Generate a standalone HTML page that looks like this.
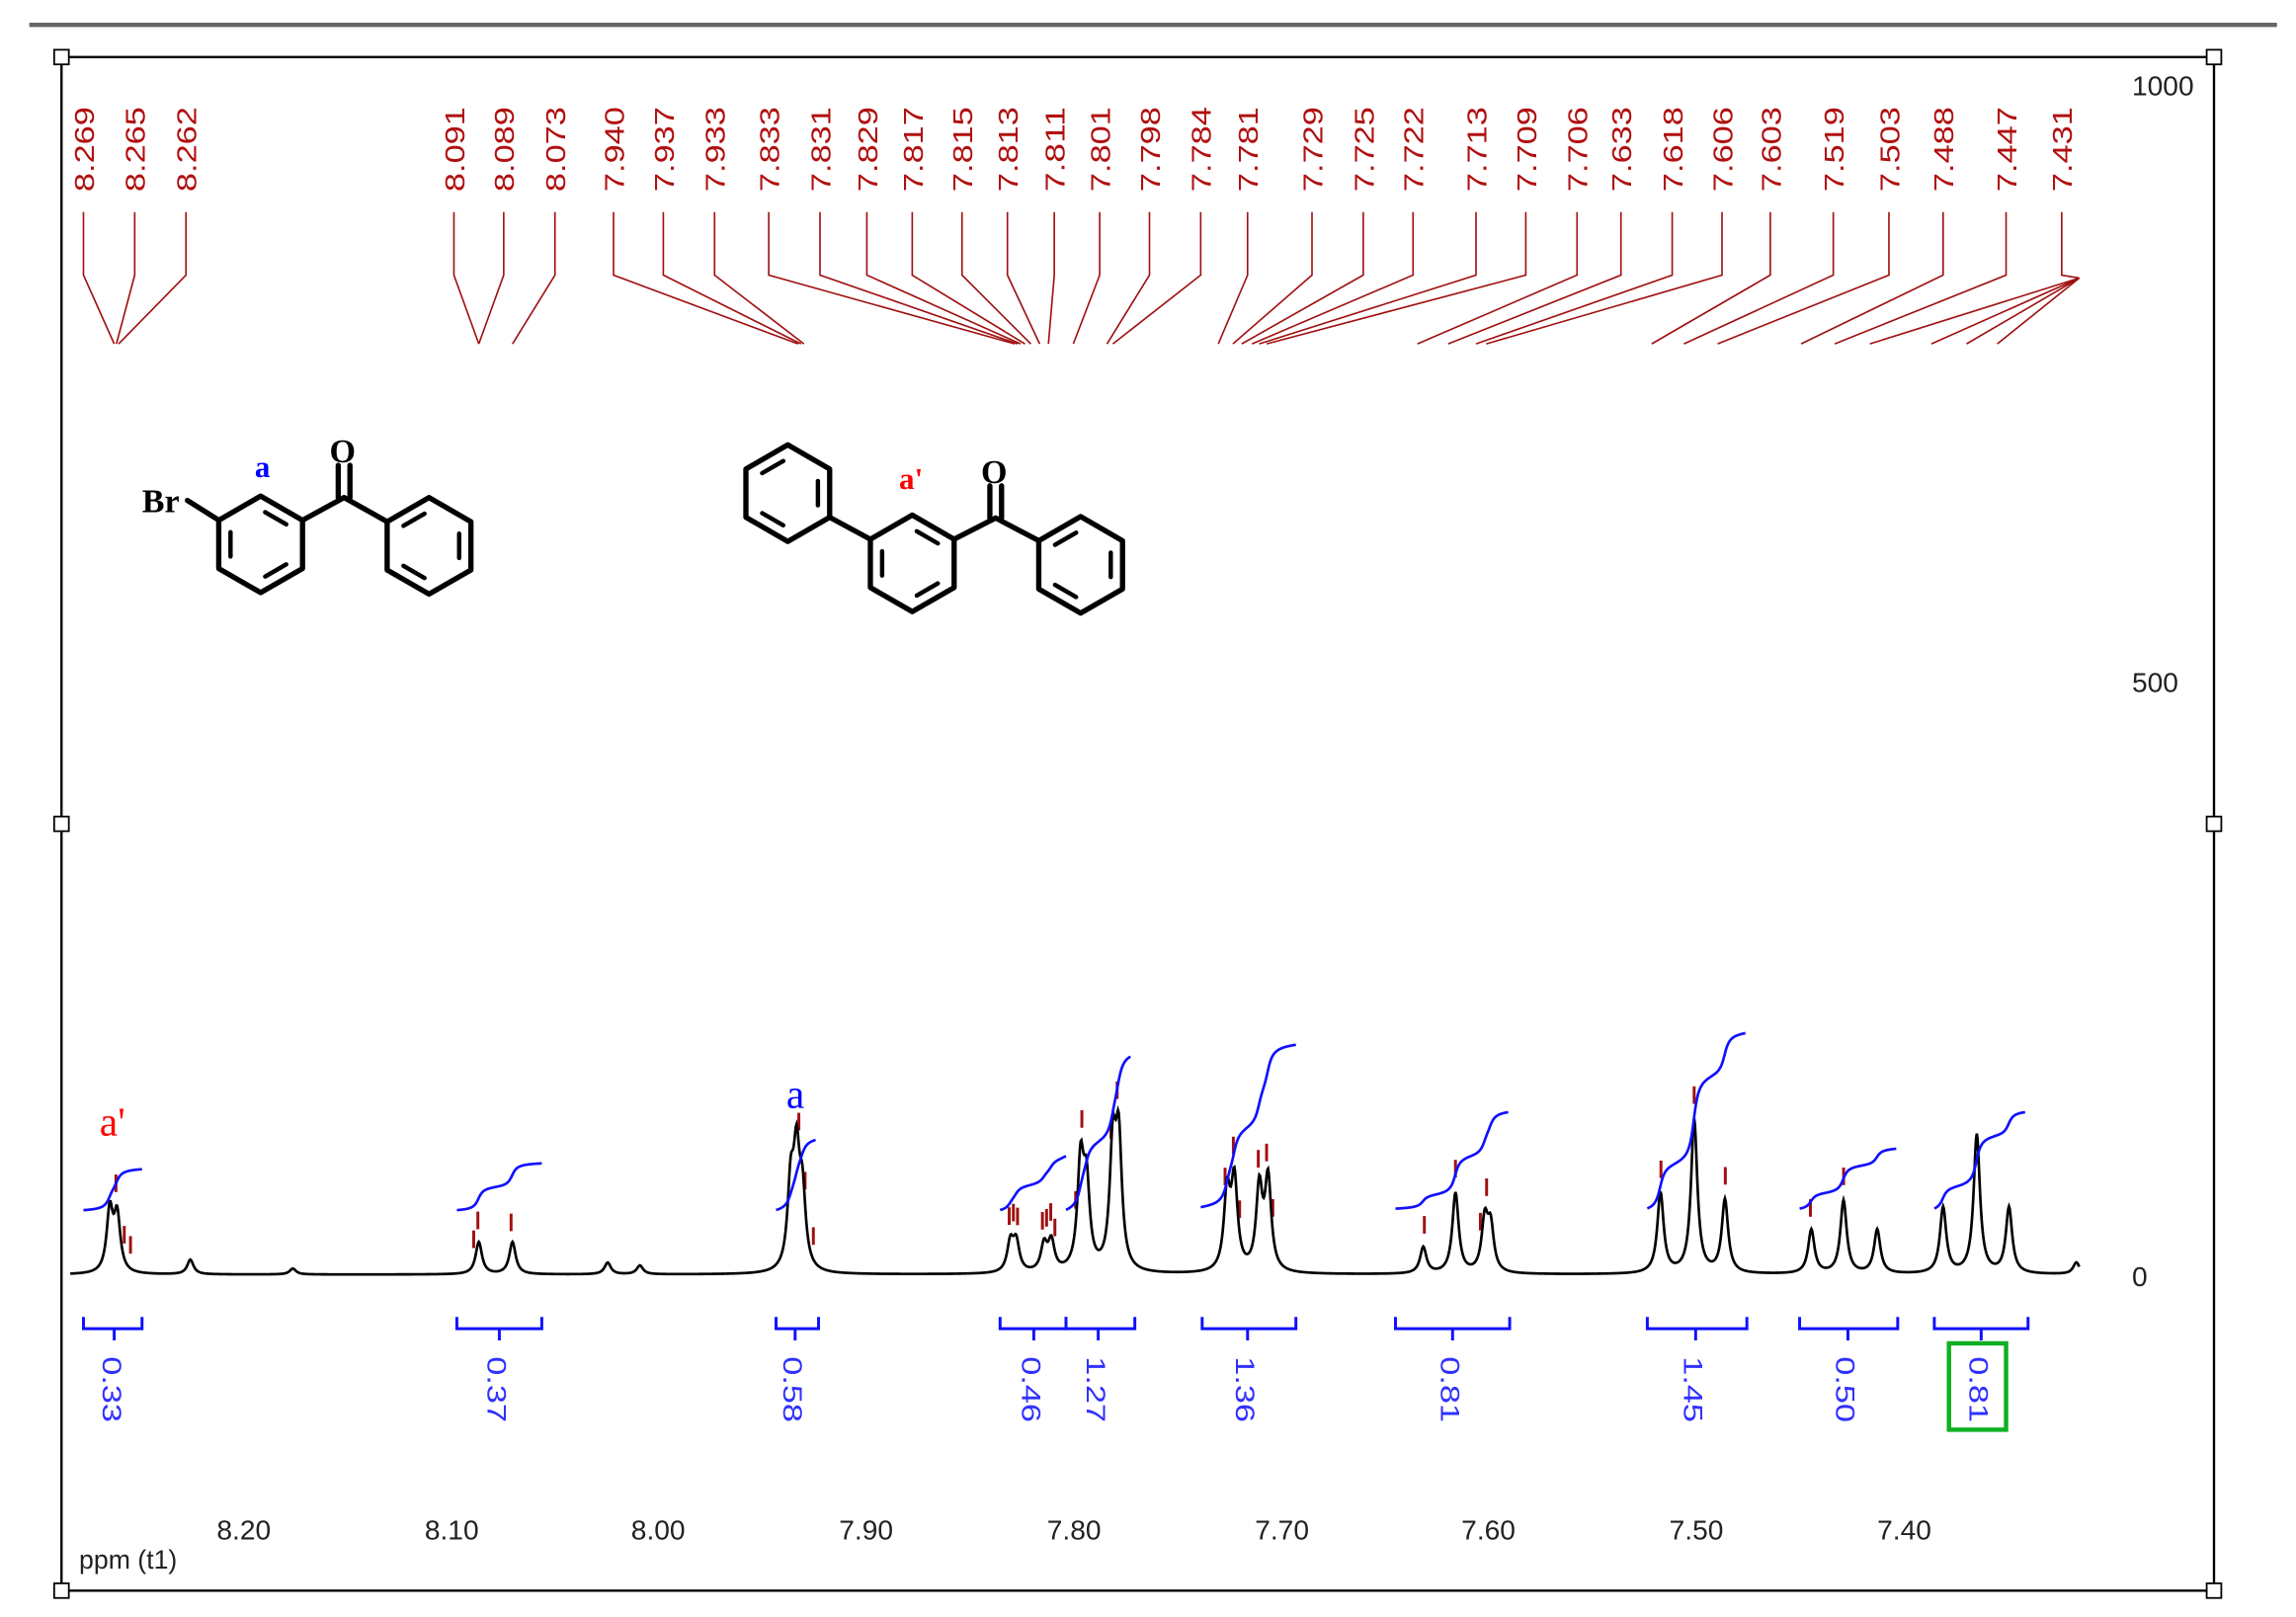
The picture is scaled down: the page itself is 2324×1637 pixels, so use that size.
<!DOCTYPE html>
<html><head><meta charset="utf-8"><style>
html,body{margin:0;padding:0;background:#fff}
svg{display:block}
.pl{font-family:"Liberation Sans",sans-serif;font-size:19px;fill:#b01010}
.iv{font-family:"Liberation Sans",sans-serif;font-size:18px;fill:#3030ff}
.ax{font-family:"Liberation Sans",sans-serif;font-size:19px;fill:#222}
</style></head><body>
<svg id="s" width="2324" height="1637" viewBox="0 0 1568 1105" preserveAspectRatio="none" xmlns="http://www.w3.org/2000/svg">
<rect x="0" y="0" width="1568" height="1105" fill="#fff"/>
<line x1="20" y1="17" x2="1555" y2="17" stroke="#666" stroke-width="3"/>
<rect x="42" y="39" width="1470" height="1048" fill="none" stroke="#000" stroke-width="1.6"/>
<g fill="#fff" stroke="#000" stroke-width="1.2">
<rect x="37" y="34" width="10" height="10"/><rect x="1507" y="34" width="10" height="10"/>
<rect x="37" y="558" width="10" height="10"/><rect x="1507" y="558" width="10" height="10"/>
<rect x="37" y="1082" width="10" height="10"/><rect x="1507" y="1082" width="10" height="10"/>
</g>
<g class="ax">
<text x="1456" y="65">1000</text><text x="1456" y="473">500</text><text x="1456" y="879">0</text>
<text x="148" y="1052">8.20</text><text x="290" y="1052">8.10</text><text x="431" y="1052">8.00</text>
<text x="573" y="1052">7.90</text><text x="715" y="1052">7.80</text><text x="857" y="1052">7.70</text>
<text x="998" y="1052">7.60</text><text x="1140" y="1052">7.50</text><text x="1282" y="1052">7.40</text>
<text x="54" y="1072" font-size="18">ppm (t1)</text>
</g>
<g id="plabels" class="pl">
<text transform="translate(64,131) rotate(-90)" textLength="58" lengthAdjust="spacingAndGlyphs">8.269</text>
<text transform="translate(99,131) rotate(-90)" textLength="58" lengthAdjust="spacingAndGlyphs">8.265</text>
<text transform="translate(134,131) rotate(-90)" textLength="58" lengthAdjust="spacingAndGlyphs">8.262</text>
<text transform="translate(317,131) rotate(-90)" textLength="58" lengthAdjust="spacingAndGlyphs">8.091</text>
<text transform="translate(351,131) rotate(-90)" textLength="58" lengthAdjust="spacingAndGlyphs">8.089</text>
<text transform="translate(386,131) rotate(-90)" textLength="58" lengthAdjust="spacingAndGlyphs">8.073</text>
<text transform="translate(426,131) rotate(-90)" textLength="58" lengthAdjust="spacingAndGlyphs">7.940</text>
<text transform="translate(460,131) rotate(-90)" textLength="58" lengthAdjust="spacingAndGlyphs">7.937</text>
<text transform="translate(495,131) rotate(-90)" textLength="58" lengthAdjust="spacingAndGlyphs">7.933</text>
<text transform="translate(532,131) rotate(-90)" textLength="58" lengthAdjust="spacingAndGlyphs">7.833</text>
<text transform="translate(567,131) rotate(-90)" textLength="58" lengthAdjust="spacingAndGlyphs">7.831</text>
<text transform="translate(599,131) rotate(-90)" textLength="58" lengthAdjust="spacingAndGlyphs">7.829</text>
<text transform="translate(630,131) rotate(-90)" textLength="58" lengthAdjust="spacingAndGlyphs">7.817</text>
<text transform="translate(664,131) rotate(-90)" textLength="58" lengthAdjust="spacingAndGlyphs">7.815</text>
<text transform="translate(695,131) rotate(-90)" textLength="58" lengthAdjust="spacingAndGlyphs">7.813</text>
<text transform="translate(727,131) rotate(-90)" textLength="58" lengthAdjust="spacingAndGlyphs">7.811</text>
<text transform="translate(758,131) rotate(-90)" textLength="58" lengthAdjust="spacingAndGlyphs">7.801</text>
<text transform="translate(792,131) rotate(-90)" textLength="58" lengthAdjust="spacingAndGlyphs">7.798</text>
<text transform="translate(827,131) rotate(-90)" textLength="58" lengthAdjust="spacingAndGlyphs">7.784</text>
<text transform="translate(859,131) rotate(-90)" textLength="58" lengthAdjust="spacingAndGlyphs">7.781</text>
<text transform="translate(903,131) rotate(-90)" textLength="58" lengthAdjust="spacingAndGlyphs">7.729</text>
<text transform="translate(938,131) rotate(-90)" textLength="58" lengthAdjust="spacingAndGlyphs">7.725</text>
<text transform="translate(972,131) rotate(-90)" textLength="58" lengthAdjust="spacingAndGlyphs">7.722</text>
<text transform="translate(1015,131) rotate(-90)" textLength="58" lengthAdjust="spacingAndGlyphs">7.713</text>
<text transform="translate(1049,131) rotate(-90)" textLength="58" lengthAdjust="spacingAndGlyphs">7.709</text>
<text transform="translate(1084,131) rotate(-90)" textLength="58" lengthAdjust="spacingAndGlyphs">7.706</text>
<text transform="translate(1114,131) rotate(-90)" textLength="58" lengthAdjust="spacingAndGlyphs">7.633</text>
<text transform="translate(1149,131) rotate(-90)" textLength="58" lengthAdjust="spacingAndGlyphs">7.618</text>
<text transform="translate(1183,131) rotate(-90)" textLength="58" lengthAdjust="spacingAndGlyphs">7.606</text>
<text transform="translate(1216,131) rotate(-90)" textLength="58" lengthAdjust="spacingAndGlyphs">7.603</text>
<text transform="translate(1259,131) rotate(-90)" textLength="58" lengthAdjust="spacingAndGlyphs">7.519</text>
<text transform="translate(1297,131) rotate(-90)" textLength="58" lengthAdjust="spacingAndGlyphs">7.503</text>
<text transform="translate(1334,131) rotate(-90)" textLength="58" lengthAdjust="spacingAndGlyphs">7.488</text>
<text transform="translate(1377,131) rotate(-90)" textLength="58" lengthAdjust="spacingAndGlyphs">7.447</text>
<text transform="translate(1415,131) rotate(-90)" textLength="58" lengthAdjust="spacingAndGlyphs">7.431</text>
</g>
<g id="leaders" stroke="#a01010" stroke-width="1.1" fill="none"></g>
<g id="ticks" stroke="#a01010" stroke-width="2"></g>
<path id="spec" fill="none" stroke="#000" stroke-width="1.8"/>
<g id="integ" fill="none" stroke="#1010ff" stroke-width="1.8"></g>
<g id="brk" fill="none" stroke="#1010ff" stroke-width="2"></g>
<g class="iv">
<text transform="translate(70,927) rotate(90)" textLength="45" lengthAdjust="spacingAndGlyphs">0.33</text>
<text transform="translate(333,927) rotate(90)" textLength="45" lengthAdjust="spacingAndGlyphs">0.37</text>
<text transform="translate(535,927) rotate(90)" textLength="45" lengthAdjust="spacingAndGlyphs">0.58</text>
<text transform="translate(698,927) rotate(90)" textLength="45" lengthAdjust="spacingAndGlyphs">0.46</text>
<text transform="translate(742,927) rotate(90)" textLength="45" lengthAdjust="spacingAndGlyphs">1.27</text>
<text transform="translate(844,927) rotate(90)" textLength="45" lengthAdjust="spacingAndGlyphs">1.36</text>
<text transform="translate(984,927) rotate(90)" textLength="45" lengthAdjust="spacingAndGlyphs">0.81</text>
<text transform="translate(1150,927) rotate(90)" textLength="45" lengthAdjust="spacingAndGlyphs">1.45</text>
<text transform="translate(1254,927) rotate(90)" textLength="45" lengthAdjust="spacingAndGlyphs">0.50</text>
<text transform="translate(1345,927) rotate(90)" textLength="45" lengthAdjust="spacingAndGlyphs">0.81</text>
</g>
<rect x="1331" y="918" width="39" height="59" fill="none" stroke="#10b020" stroke-width="3"/>
<text x="68" y="776" font-family="Liberation Serif,serif" font-size="28" fill="#ff0000">a'</text>
<text x="537" y="757" font-family="Liberation Serif,serif" font-size="28" fill="#0000ff">a</text>
<g id="mol" stroke="#000" stroke-width="3.6" fill="none" stroke-linecap="round" stroke-linejoin="round"></g>
<g font-family="Liberation Serif,serif" font-weight="bold">
<text x="97" y="350" font-size="23">Br</text>
<text x="225" y="316" font-size="23">O</text>
<text x="174" y="326" font-size="21" fill="#0000ff">a</text>
<text x="670" y="330" font-size="23">O</text>
<text x="614" y="334" font-size="21" fill="#ff0000">a'</text>
</g>
</svg>
<script>
var NS="http://www.w3.org/2000/svg";
function el(p,t,a){var e=document.createElementNS(NS,t);for(var k in a)e.setAttribute(k,a[k]);document.getElementById(p).appendChild(e);return e;}
var peaks=[[75,42],[80,38],[130,10],[200,4],[327,22],[350,22],[415,8],[437,6],[540,55],[544,72],[548,48],[690,20],[694,20],[713,18],[718,20],[738,72],[742,55],[760,80],[764,85],[838,52],[843,60],[860,56],[866,62],[972,18],[994,55],[1014,35],[1018,30],[1134,55],[1157,105],[1178,50],[1237,30],[1259,50],[1282,30],[1327,45],[1350,95],[1372,45],[1418,8]];
var B=871,W=2.6;
function f(x){var s=0;for(var i=0;i<peaks.length;i++){var d=(x-peaks[i][0])/W;s+=peaks[i][1]/(1+d*d);}return s;}
var d="";for(var x=48;x<=1420;x+=0.5){d+=(x==48?"M":"L")+x+","+(B-f(x)).toFixed(2);}
document.getElementById("spec").setAttribute("d",d);
var G=[[57,97,827,799],[312,370,827,795],[530,557,827,779],[683,728,827,790],[728,772,827,722],[820,885,825,714],[953,1030,826,760],[1125,1192,826,706],[1229,1295,826,785],[1321,1383,826,760]];
G.forEach(function(g){var a=g[0],b=g[1],tot=0;for(var x=a;x<=b;x+=0.5){tot+=f(x);}var c=0,p="";for(var x=a;x<=b;x+=0.5){c+=f(x);var y=g[2]-(g[2]-g[3])*(c/tot);p+=(x==a?"M":"L")+x+","+y.toFixed(2);}el("integ","path",{d:p});});
[[57,97,78],[312,370,341],[530,559,543],[683,728,706],[728,775,750],[821,885,852],[953,1031,992],[1125,1193,1158],[1229,1296,1262],[1321,1385,1353]].forEach(function(b){
el("brk","path",{d:"M"+b[0]+",900V908H"+b[1]+"V900M"+b[2]+",908V916"});});
var ppm=[8.269,8.265,8.262,8.091,8.089,8.073,7.940,7.937,7.933,7.833,7.831,7.829,7.817,7.815,7.813,7.811,7.801,7.798,7.784,7.781,7.729,7.725,7.722,7.713,7.709,7.706,7.633,7.618,7.606,7.603,7.519,7.503,7.488,7.447,7.431];
var lx=[57,92,127,310,344,379,419,453,488,525,560,592,623,657,688,720,751,785,820,852,896,931,965,1008,1042,1077,1107,1142,1176,1209,1252,1290,1327,1370,1408];
var tgt=[78,79.5,81,327,327,350,545,547,549,693,695,697,700,704,710,716,733,756,760,832,842,848,855,860,865,968,989,1008,1015,1128,1150,1173,1230,1253,1420];
ppm.forEach(function(p,i){var t=tgt[i];
el("leaders","path",{d:"M"+lx[i]+",145V188L"+t+","+(i==34?190:235)});
var tx=169+(8.20-p)*1417.5+(i<3?8:0)+(i>=6&&i<9?8:0); if(tx>1418)tx=1418;var top=B-f(tx);
el("ticks","line",{x1:tx,x2:tx,y1:top-22,y2:top-10});});
[1277,1319,1343,1364].forEach(function(t){el("leaders","path",{d:"M1420,190L"+t+",235"});});
function hex(cx,cy,r,dbl){var v=[];for(var k=0;k<6;k++){var a=Math.PI/180*(-90+60*k);v.push([cx+r*Math.cos(a),cy+r*Math.sin(a)]);}
var p="M"+v.map(function(q){return q[0].toFixed(1)+","+q[1].toFixed(1)}).join("L")+"Z";el("mol","path",{d:p});
dbl.forEach(function(k){var a=v[k],b=v[(k+1)%6];var s=0.72;function ins(q){return [cx+(q[0]-cx)*s,cy+(q[1]-cy)*s];}var A=ins(a),Bq=ins(b);var mA=[A[0]+(Bq[0]-A[0])*0.15,A[1]+(Bq[1]-A[1])*0.15],mB=[A[0]+(Bq[0]-A[0])*0.85,A[1]+(Bq[1]-A[1])*0.85];
el("mol","line",{x1:mA[0],y1:mA[1],x2:mB[0],y2:mB[1],"stroke-width":3});});return v;}
function ln(a,b,c,d){el("mol","line",{x1:a,y1:b,x2:c,y2:d});}
var r1=hex(178,372,33,[0,2,4]),r2=hex(293,373,33,[1,3,5]);
ln(r1[1][0],r1[1][1],235,340);ln(235,340,r2[5][0],r2[5][1]);ln(r1[5][0],r1[5][1],128,342);
ln(231,340,231,318);ln(239,340,239,318);
var ra=hex(538,337,33,[1,3,5]),rb=hex(623,385,33,[0,2,4]),rc=hex(738,386,33,[1,3,5]);
ln(ra[2][0],ra[2][1],rb[5][0],rb[5][1]);ln(rb[1][0],rb[1][1],680,354);ln(680,354,rc[5][0],rc[5][1]);
ln(676,354,676,332);ln(684,354,684,332);
</script>
</body></html>
